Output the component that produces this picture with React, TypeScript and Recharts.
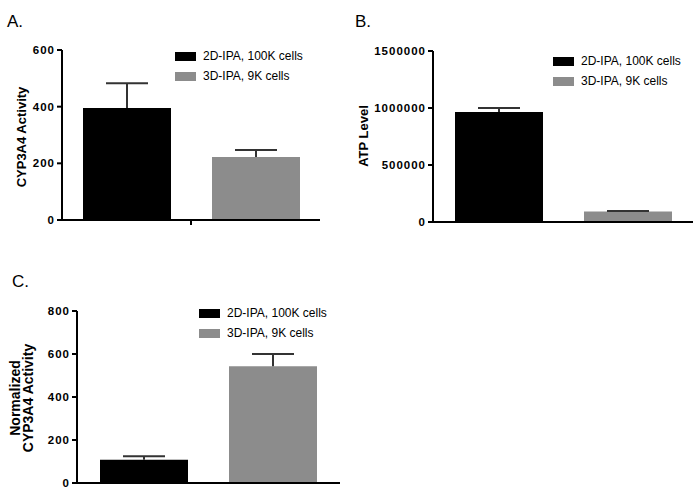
import React from 'react';
import { BarChart, Bar, XAxis, YAxis, ErrorBar, Legend } from 'recharts';

const categories = [''];
const seriesNames = ['2D-IPA, 100K cells', '3D-IPA, 9K cells'];
const seriesColors = ['#000000', '#8c8c8c'];

const cypValues2D = [395];
const cypErr2D = [88];
const cypValues3D = [222];
const cypErr3D = [25];
const cypTicks = [0, 200, 400, 600];

const atpValues2D = [965000];
const atpErr2D = [35000];
const atpValues3D = [92000];
const atpErr3D = [4000];
const atpTicks = [0, 500000, 1000000, 1500000];

const normValues2D = [108];
const normErr2D = [17];
const normValues3D = [543];
const normErr3D = [57];
const normTicks = [0, 200, 400, 600, 800];

const FONT = '"Liberation Sans", Arial, sans-serif';

function buildData(v2: number[], e2: number[], v3: number[], e3: number[]) {
  return categories.map((name, i) => ({
    name,
    a: v2[i],
    aErr: [0, e2[i]],
    b: v3[i],
    bErr: [0, e3[i]],
  }));
}

const LegendContent = (props: any) => {
  const { payload } = props;
  return (
    <div style={{ fontFamily: FONT }}>
      {(payload || []).map((p: any, i: number) => (
        <div key={i} style={{ display: 'flex', alignItems: 'center', height: 20 }}>
          <div style={{ width: 21, height: 9, background: p.color }} />
          <span style={{ marginLeft: 7, fontSize: 12, color: '#000', whiteSpace: 'nowrap' }}>{p.value}</span>
        </div>
      ))}
    </div>
  );
};

type PanelProps = {
  left: number;
  top: number;
  width: number;
  height: number;
  margin: { top: number; right: number; bottom: number; left: number };
  data: any[];
  ticks: number[];
  domainMax: number;
  legendPos: { left: number; top: number };
  xTick: boolean;
};

const Panel = (p: PanelProps) => (
  <div style={{ position: 'absolute', left: p.left, top: p.top }}>
    <BarChart width={p.width} height={p.height} data={p.data} margin={p.margin} barSize={88} barGap={41}>
      <XAxis
        dataKey="name"
        height={10}
        axisLine={{ stroke: '#000', strokeWidth: 2 }}
        tickLine={p.xTick ? { stroke: '#000', strokeWidth: 2 } : false}
        tickSize={5}
        tick={{ fill: 'transparent' }}
      />
      <YAxis
        width={40}
        domain={[0, p.domainMax]}
        ticks={p.ticks}
        interval={0}
        allowDataOverflow
        axisLine={{ stroke: '#000', strokeWidth: 2 }}
        tickLine={{ stroke: '#000', strokeWidth: 2 }}
        tickSize={5}
        tickMargin={2}
        tick={{ fill: '#000', fontSize: 11.5, fontWeight: 'bold', letterSpacing: 1 }}
      />
      <Legend
        layout="vertical"
        align="center"
        verticalAlign="middle"
        content={<LegendContent />}
        wrapperStyle={{ left: p.legendPos.left, top: p.legendPos.top, width: 'auto' }}
      />
      <Bar dataKey="a" name={seriesNames[0]} fill={seriesColors[0]} isAnimationActive={false}>
        <ErrorBar dataKey="aErr" width={21} stroke="#333" strokeWidth={2} isAnimationActive={false} />
      </Bar>
      <Bar dataKey="b" name={seriesNames[1]} fill={seriesColors[1]} isAnimationActive={false}>
        <ErrorBar dataKey="bErr" width={21} stroke="#333" strokeWidth={2} isAnimationActive={false} />
      </Bar>
    </BarChart>
  </div>
);

const RotLabel = ({ cx, cy, children, size = 13, lh = 12 }: any) => (
  <div
    style={{
      position: 'absolute',
      left: cx,
      top: cy,
      transform: 'translate(-50%, -50%) rotate(-90deg)',
      whiteSpace: 'nowrap',
      fontWeight: 'bold',
      fontSize: size,
      lineHeight: lh + 'px',
      textAlign: 'center',
      color: '#000',
    }}
  >
    {children}
  </div>
);

const PanelLetter = ({ x, y, text }: any) => (
  <div style={{ position: 'absolute', left: x, top: y, fontSize: 17, lineHeight: 1, color: '#000' }}>{text}</div>
);

export default function App() {
  const dataA = buildData(cypValues2D, cypErr2D, cypValues3D, cypErr3D);
  const dataB = buildData(atpValues2D, atpErr2D, atpValues3D, atpErr3D);
  const dataC = buildData(normValues2D, normErr2D, normValues3D, normErr3D);
  return (
    <div
      style={{
        position: 'absolute',
        left: 0,
        top: 0,
        width: 700,
        height: 488,
        background: '#fff',
        fontFamily: FONT,
        overflow: 'hidden',
      }}
    >
      <style>{'.recharts-errorBar line:nth-of-type(3){display:none}'}</style>
      <PanelLetter x={7} y={13} text="A." />
      <PanelLetter x={355} y={13} text="B." />
      <PanelLetter x={12} y={273} text="C." />

      <Panel
        left={0}
        top={0}
        width={350}
        height={240}
        margin={{ top: 50, right: 30, bottom: 10, left: 22 }}
        data={dataA}
        ticks={cypTicks}
        domainMax={600}
        legendPos={{ left: 175, top: 46 }}
        xTick={true}
      />
      <Panel
        left={350}
        top={0}
        width={350}
        height={240}
        margin={{ top: 51, right: 7, bottom: 8, left: 43 }}
        data={dataB}
        ticks={atpTicks}
        domainMax={1500000}
        legendPos={{ left: 203, top: 51 }}
        xTick={false}
      />
      <Panel
        left={0}
        top={250}
        width={350}
        height={238}
        margin={{ top: 61, right: 10, bottom: -5, left: 37 }}
        data={dataC}
        ticks={normTicks}
        domainMax={800}
        legendPos={{ left: 199, top: 53 }}
        xTick={false}
      />

      <RotLabel cx={22} cy={137}>CYP3A4 Activity</RotLabel>
      <RotLabel cx={364} cy={136}>ATP Level</RotLabel>
      <RotLabel cx={21.5} cy={398} size={14} lh={13}>
        <div>Normalized</div>
        <div>CYP3A4 Activity</div>
      </RotLabel>
    </div>
  );
}
